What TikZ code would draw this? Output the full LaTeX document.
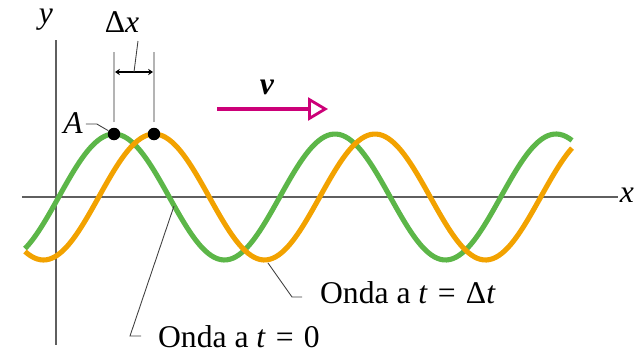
\documentclass[tikz,border=0pt]{standalone}
\usepackage{fontspec}
\setmainfont{Liberation Serif}
\definecolor{wvGreen}{RGB}{92, 182, 72}
\definecolor{wvOrange}{RGB}{242, 162, 0}
\definecolor{wvMagenta}{RGB}{204, 0, 120}
\definecolor{wvAxis}{RGB}{95, 95, 95}
\definecolor{wvGuide}{RGB}{180, 180, 180}
\usepackage{tikz}
\usetikzlibrary{arrows.meta, positioning}
\tikzset{
  axisline/.style={line width=1.6pt, wvAxis},
  wave/.style={line width=2.9pt, draw=#1, smooth, samples=180},
  wave/.default=wvGreen,
  guide/.style={line width=1.1pt, wvGuide},
  leader/.style={line width=0.5pt, black!75},
  dimarrow/.style={-{Stealth[length=2.8pt, width=3.6pt]}, line width=0.6pt, black},
  velarrow/.style={-{Triangle[open, length=0.4cm, width=0.46cm, line width=1.6pt]}, line width=2.8pt, wvMagenta},
  dot/.style={circle, fill=black, inner sep=0pt, minimum size=0.25cm},
  lbl/.style={inner sep=1pt, font=\fontsize{18}{21}\selectfont},
}
\newcommand{\eqsp}{\hspace{0.32em}=\hspace{0.32em}}

\begin{document}
\begin{tikzpicture}[x=0.02cm, y=-0.02cm]
  \useasboundingbox (0,0) rectangle (637,352);

  % Axes
  \draw[axisline] (22,197) -- (618,197);
  \draw[axisline] (56,40) -- (56,345);
  \node[lbl] (xlab) at (627,195) {\textit{x}};
  \node[lbl, inner sep=0pt] (ylab) at (46,20) {\textit{y}};

  % Waves
  \draw[wave=wvGreen] plot[domain=25:572] (\x, {197-63*cos(1.629*(\x-114))});
  \draw[wave=wvOrange] plot[domain=25:572] (\x, {197-63*cos(1.629*(\x-154))});

  % Crests and Delta x
  \node[dot] (dotA) at (114,134) {};
  \node[dot] (dotB) at (154,134) {};
  \draw[guide] (dotA.north) ++(0,-5) -- (114,52);
  \draw[guide] (dotB.north) ++(0,-5) -- (154,52);
  \coordinate (dxmid) at (134,72);
  \draw[dimarrow] (dxmid) -- (115,72);
  \draw[dimarrow] (dxmid) -- (153,72);
  \node[lbl] (dxlab) at (122,22) {Δ\textit{x}};
  \draw[leader] (138,41) -- (dxmid);

  \node[lbl] (alab) at (73,123) {\textit{A}};
  \draw[leader] (alab.east) ++(1,1) coordinate (aknee0) -- ++(11,0) coordinate (aknee) -- (dotA);

  % Velocity
  \coordinate (vstart) at (217,109);
  \coordinate (vend) at (328,109);
  \draw[velarrow] (vstart) -- (vend);
  \node[lbl] (vlab) at (267,87) {\textbf{\textit{v}}};

  % Labels
  \node[lbl, anchor=west] (lbl0) at (156,337) {Onda a \textit{t}\eqsp 0};
  \node[lbl, anchor=west] (lbldt) at (318,293) {Onda a \textit{t}\eqsp Δ\textit{t}};
  \coordinate (onGreen) at (174,206);
  \coordinate (onOrange) at (268,263);
  \draw[leader] (onGreen) -- (130,336) -- ++(11,0);
  \draw[leader] (onOrange) -- (292,297) -- ++(10,0);
\end{tikzpicture}
\end{document}
